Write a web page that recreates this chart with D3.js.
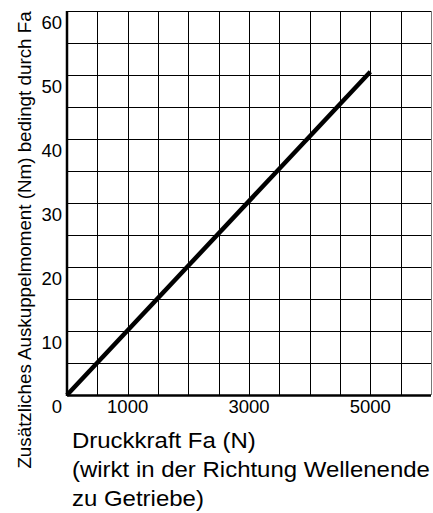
<!DOCTYPE html>
<html>
<head>
<meta charset="utf-8">
<script src="https://cdn.jsdelivr.net/npm/d3@7"></script>
<style>
  body { margin: 0; background: #fff; }
  text { font-family: "Liberation Sans", Arial, sans-serif; fill: #000; }
</style>
</head>
<body>
<script>
// Line data: Druckkraft Fa (N) vs. additional moment (Nm)
const forceValues = [0, 5000];
const momentValues = [0, 50.5];

const xTickLabels = [1000, 3000, 5000];
const yTickLabels = [0, 10, 20, 30, 40, 50, 60];
const xGridValues = d3.range(0, 6001, 500);
const yGridValues = d3.range(0, 61, 5);

const xTitleLines = [
  "Druckkraft Fa (N)",
  "(wirkt in der Richtung Wellenende",
  "zu Getriebe)"
];
const yTitle = "Zusätzliches Auskuppelmoment (Nm) bedingt durch Fa";

const width = 433;
const height = 513;
const margin = { top: 11, right: 2, bottom: 118, left: 67 };

const svg = d3
  .select("body")
  .append("svg")
  .attr("width", width)
  .attr("height", height);

const xScale = d3
  .scaleLinear()
  .domain([0, 6000])
  .range([margin.left, width - margin.right]);

const yScale = d3
  .scaleLinear()
  .domain([0, 60])
  .range([height - margin.bottom, margin.top]);

// grid lines
svg
  .append("g")
  .selectAll("line")
  .data(xGridValues)
  .enter()
  .append("line")
  .attr("x1", (d) => Math.round(xScale(d)) + 0.5)
  .attr("x2", (d) => Math.round(xScale(d)) + 0.5)
  .attr("y1", yScale(60))
  .attr("y2", yScale(0))
  .style("stroke", (d) => (d == 6000 ? "#777" : "#000"))
  .style("stroke-width", "1px");

svg
  .append("g")
  .selectAll("line")
  .data(yGridValues)
  .enter()
  .append("line")
  .attr("x1", xScale(0))
  .attr("x2", xScale(6000))
  .attr("y1", (d) => Math.round(yScale(d)) + 0.5)
  .attr("y2", (d) => Math.round(yScale(d)) + 0.5)
  .style("stroke", "#000")
  .style("stroke-width", "1px");

// heavier left and bottom frame
svg
  .append("line")
  .attr("x1", xScale(0))
  .attr("x2", xScale(0))
  .attr("y1", yScale(60))
  .attr("y2", yScale(0) + 1)
  .style("stroke", "#000")
  .style("stroke-width", "2.5px");

svg
  .append("line")
  .attr("x1", xScale(0))
  .attr("x2", xScale(6000))
  .attr("y1", yScale(0) + 0.5)
  .attr("y2", yScale(0) + 0.5)
  .style("stroke", "#000")
  .style("stroke-width", "2.5px");

// the data line
const lineData = forceValues.map((f, i) => ({ x: f, y: momentValues[i] }));
svg
  .append("path")
  .datum(lineData)
  .attr("d", d3.line().x((d) => xScale(d.x)).y((d) => yScale(d.y)))
  .style("fill", "none")
  .style("stroke", "#000")
  .style("stroke-width", "4.5px");

// tick labels
svg
  .append("g")
  .selectAll("text")
  .data(yTickLabels)
  .enter()
  .append("text")
  .attr("x", 62)
  .attr("y", (d) => yScale(d) + 18)
  .attr("text-anchor", "end")
  .style("font-size", "18.5px")
  .text((d) => d);

svg
  .append("g")
  .selectAll("text")
  .data(xTickLabels)
  .enter()
  .append("text")
  .attr("x", (d) => xScale(d))
  .attr("y", yScale(0) + 18)
  .attr("text-anchor", "middle")
  .style("font-size", "18.5px")
  .text((d) => d);

// axis titles (source text is a bit wider than plain Arial)
const xTitleBaselines = [448, 477, 506];
svg
  .append("g")
  .selectAll("text")
  .data(xTitleLines)
  .enter()
  .append("text")
  .attr("transform", (d, i) => `translate(72, ${xTitleBaselines[i]}) scale(1.09, 1)`)
  .style("font-size", "22px")
  .text((d) => d);

svg
  .append("text")
  .attr("transform", "translate(31, 240) rotate(-90)")
  .attr("text-anchor", "middle")
  .style("font-size", "18.8px")
  .text(yTitle);
</script>
</body>
</html>
